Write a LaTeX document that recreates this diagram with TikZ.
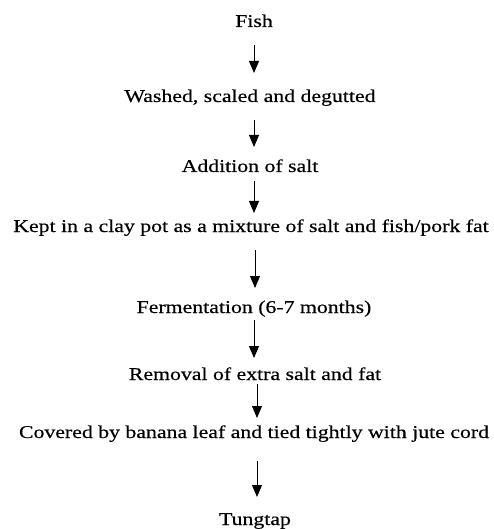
\documentclass[tikz,border=0pt]{standalone}
\usepackage{fontspec}
\setmainfont{Liberation Serif}[FakeStretch=1.21,FakeBold=0.4]
\usetikzlibrary{arrows.meta}
\tikzset{
  lbl/.style={anchor=base, inner sep=0pt, font=\fontsize{18}{21}\selectfont},
  arr/.style={-{Triangle[length=12pt,width=10pt]}, line width=0.9pt, black}
}
\begin{document}
\begin{tikzpicture}[x=1pt,y=1pt]
\useasboundingbox (0,0) rectangle (494,-529);
\node[lbl] (fish) at (254,-27) {Fish};
\node[lbl] (wash) at (250,-102) {Washed, scaled and degutted};
\node[lbl] (salt) at (250,-172) {Addition of salt};
\node[lbl] (kept) at (251,-232) {Kept in a clay pot as a mixture of salt and fish/pork fat};
\node[lbl] (ferm) at (254,-313) {Fermentation (6-7 months)};
\node[lbl] (remo) at (255,-380) {Removal of extra salt and fat};
\node[lbl] (cove) at (254,-438) {Covered by banana leaf and tied tightly with jute cord};
\node[lbl] (tung) at (255,-525) {Tungtap};
\draw[arr] ([yshift=-18pt]fish.base) -- ([xshift=4pt,yshift=29pt]wash.base);
\draw[arr] ([xshift=4pt,yshift=-18pt]wash.base) -- ([xshift=4pt,yshift=25pt]salt.base);
\draw[arr] ([xshift=4pt,yshift=-9pt]salt.base) -- ([xshift=3pt,yshift=19pt]kept.base);
\draw[arr] ([xshift=4pt,yshift=-18pt]kept.base) -- ([xshift=1pt,yshift=25pt]ferm.base);
\draw[arr] ([yshift=-7pt]ferm.base) -- ([xshift=-1pt,yshift=22pt]remo.base);
\draw[arr] ([xshift=2pt,yshift=-4pt]remo.base) -- ([xshift=3pt,yshift=20pt]cove.base);
\draw[arr] ([xshift=3pt,yshift=-23pt]cove.base) -- ([xshift=2pt,yshift=28pt]tung.base);
\end{tikzpicture}
\end{document}
